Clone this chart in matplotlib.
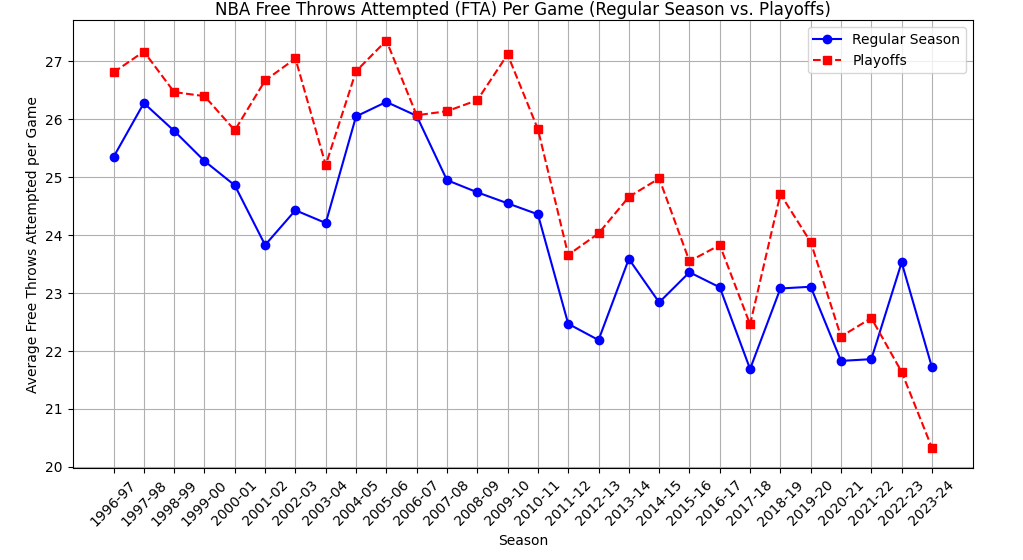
import matplotlib
matplotlib.use('Agg')
import matplotlib.pyplot as plt

seasons = ['1996-97', '1997-98', '1998-99', '1999-00', '2000-01', '2001-02', '2002-03',
           '2003-04', '2004-05', '2005-06', '2006-07', '2007-08', '2008-09', '2009-10',
           '2010-11', '2011-12', '2012-13', '2013-14', '2014-15', '2015-16', '2016-17',
           '2017-18', '2018-19', '2019-20', '2020-21', '2021-22', '2022-23', '2023-24']

regular_fta = [25.35, 26.28, 25.80, 25.28, 24.86, 23.83, 24.43, 24.21, 26.05, 26.30,
               26.06, 24.95, 24.74, 24.55, 24.36, 22.47, 22.19, 23.59, 22.84, 23.36,
               23.10, 21.69, 23.08, 23.11, 21.83, 21.86, 23.53, 21.72]

playoff_fta = [26.81, 27.17, 26.47, 26.40, 25.81, 26.67, 27.05, 25.21, 26.83, 27.36,
               26.07, 26.14, 26.33, 27.12, 25.83, 23.66, 24.03, 24.66, 24.98, 23.55,
               23.83, 22.46, 24.71, 23.88, 22.25, 22.57, 21.64, 20.33]

fig = plt.figure(figsize=(10.23, 5.6), dpi=100)
ax = fig.add_axes([0.071, 0.164, 0.880, 0.800])

ax.plot(seasons, regular_fta, marker='o', linestyle='-', color='b', label='Regular Season')
ax.plot(seasons, playoff_fta, marker='s', linestyle='--', color='r', label='Playoffs')

ax.set_title('NBA Free Throws Attempted (FTA) Per Game (Regular Season vs. Playoffs)', pad=4)
ax.set_xlabel('Season')
ax.set_ylabel('Average Free Throws Attempted per Game')
ax.tick_params(axis='x', rotation=45)
ax.legend()
ax.grid(True)

fig.savefig('out.png', dpi=100)
